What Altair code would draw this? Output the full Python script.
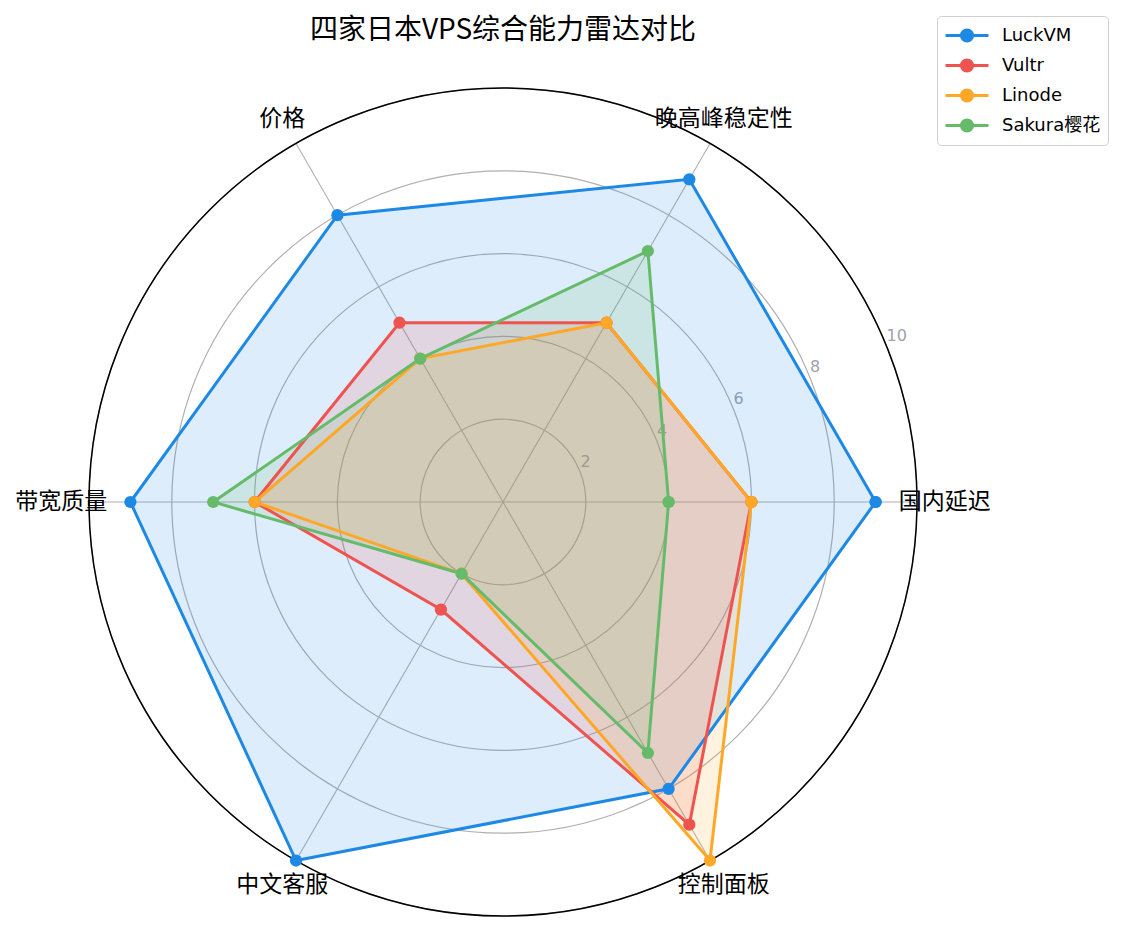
import altair as alt
import pandas as pd

# ---------------- data ----------------
categories = ["国内延迟", "晚高峰稳定性", "价格", "带宽质量", "中文客服", "控制面板"]
series_names = ["LuckVM", "Vultr", "Linode", "Sakura樱花"]
luckvm = [9, 9, 8, 9, 10, 8]
vultr = [6, 5, 5, 6, 3, 9]
linode = [6, 5, 4, 6, 2, 10]
sakura = [4, 7, 4, 7, 2, 7]
series_values = [luckvm, vultr, linode, sakura]
colors = ["#1e88e5", "#ef5350", "#ffa726", "#66bb6a"]
ring_values = [2, 4, 6, 8, 10]
ring_labels = ["2", "4", "6", "8", "10"]
title_text = "四家日本VPS综合能力雷达对比"

R_MAX = 10
N = len(categories)
W = 828
FONT = "Noto Sans CJK SC"
LATIN_FONT = "DejaVu Sans, Noto Sans CJK SC"

rows = []
for name, col, vals in zip(series_names, colors, series_values):
    for k in range(N + 1):  # close the polygon
        i = k % N
        rows.append({"series": name, "col": col, "order": k, "idx": i,
                     "category": categories[i], "value": vals[i]})
df = pd.DataFrame(rows)
cat_df = pd.DataFrame({"idx": list(range(N)), "category": categories})
ring_df = pd.DataFrame({"r": ring_values, "label": ring_labels})

xs = alt.Scale(domain=[-R_MAX, R_MAX], nice=False, zero=False)
ys = alt.Scale(domain=[-R_MAX, R_MAX], nice=False, zero=False)
stroke_scale = alt.Scale(domain=series_names, range=colors)
theta_expr = f"datum.idx * 2 * PI / {N}"

# spokes
spokes = alt.Chart(cat_df).transform_calculate(
    theta=theta_expr
).transform_calculate(
    x0="0", y0="0",
    xe=f"{R_MAX} * cos(datum.theta)", ye=f"{R_MAX} * sin(datum.theta)"
).mark_rule(color="#b0b0b0", strokeWidth=1.1).encode(
    x=alt.X("x0:Q", scale=xs, axis=None),
    y=alt.Y("y0:Q", scale=ys, axis=None),
    x2="xe:Q", y2="ye:Q",
)

radius_scale = alt.Scale(type="linear", domain=[0, R_MAX], range=[0, W / 2], zero=True)

rings = alt.Chart(ring_df).mark_arc(
    theta=0, theta2=6.2832, fillOpacity=0, stroke="#b0b0b0", strokeWidth=1.2
).encode(radius=alt.Radius("r:Q", scale=radius_scale, stack=None))

outer = alt.Chart(ring_df).transform_filter(f"datum.r == {R_MAX}").mark_arc(
    theta=0, theta2=6.2832, fillOpacity=0, stroke="#000000", strokeWidth=1.5
).encode(radius=alt.Radius("r:Q", scale=radius_scale, stack=None))

tick_labels = alt.Chart(ring_df).transform_calculate(
    px="datum.r * cos(PI / 8)", py="datum.r * sin(PI / 8)"
).mark_text(align="left", baseline="bottom", dx=1, fontSize=16, font=LATIN_FONT,
            color="#9ea2ae").encode(
    x=alt.X("px:Q", scale=xs, axis=None),
    y=alt.Y("py:Q", scale=ys, axis=None),
    text="label:N",
)

base = alt.Chart(df).transform_calculate(
    theta=theta_expr
).transform_calculate(
    px="datum.value * cos(datum.theta)", py="datum.value * sin(datum.theta)"
)

sym_path = ("M-1,0L1,0"
            "M-0.07,0A0.07,0.07 0 1,0 0.07,0A0.07,0.07 0 1,0 -0.07,0"
            "M-0.2,0A0.2,0.2 0 1,0 0.2,0A0.2,0.2 0 1,0 -0.2,0"
            "M-0.26,0A0.26,0.26 0 1,0 0.26,0A0.26,0.26 0 1,0 -0.26,0")

fills = base.mark_line(filled=True, fillOpacity=0.15, strokeOpacity=0).encode(
    x=alt.X("px:Q", scale=xs, axis=None),
    y=alt.Y("py:Q", scale=ys, axis=None),
    fill=alt.Fill("col:N", scale=None),
    detail="series:N",
    order="order:Q",
)

lines = base.mark_line(strokeWidth=3).encode(
    x=alt.X("px:Q", scale=xs, axis=None),
    y=alt.Y("py:Q", scale=ys, axis=None),
    stroke=alt.Stroke("series:N", scale=stroke_scale, sort=series_names,
                      legend=alt.Legend(
                          title=None, orient="none", legendX=848, legendY=-72,
                          symbolType=sym_path, symbolSize=1849, symbolStrokeWidth=3,
                          clipHeight=25, rowPadding=5, labelOffset=12,
                          labelFontSize=18, labelFont=LATIN_FONT, labelColor="#000000",
                          padding=7, strokeColor="#d0d0d0", cornerRadius=4,
                          fillColor="#ffffff")),
    order="order:Q",
)

points = base.mark_circle(size=150, opacity=1).encode(
    x=alt.X("px:Q", scale=xs, axis=None),
    y=alt.Y("py:Q", scale=ys, axis=None),
    fill=alt.Fill("col:N", scale=None),
)

cat_labels = alt.Chart(cat_df).transform_calculate(
    theta=theta_expr
).transform_calculate(
    px="10.67 * cos(datum.theta)", py="10.67 * sin(datum.theta)"
).mark_text(align="center", baseline="middle", fontSize=23, font=FONT,
            color="#000000").encode(
    x=alt.X("px:Q", scale=xs, axis=None),
    y=alt.Y("py:Q", scale=ys, axis=None),
    text="category:N",
)

chart = alt.layer(
    spokes, rings, outer, tick_labels, fills, lines, points, cat_labels
).properties(
    width=W, height=W,
    title=alt.Title(title_text, fontSize=28, font=FONT, fontWeight="normal",
                    anchor="middle", offset=-29, frame="group", color="#000000"),
    autosize=alt.AutoSizeParams(type="none"),
    padding={"left": 81, "top": 80, "right": 200, "bottom": 10},
).configure_view(strokeWidth=0)

chart.save("out.html", embed_options={"renderer": "svg", "actions": False})
